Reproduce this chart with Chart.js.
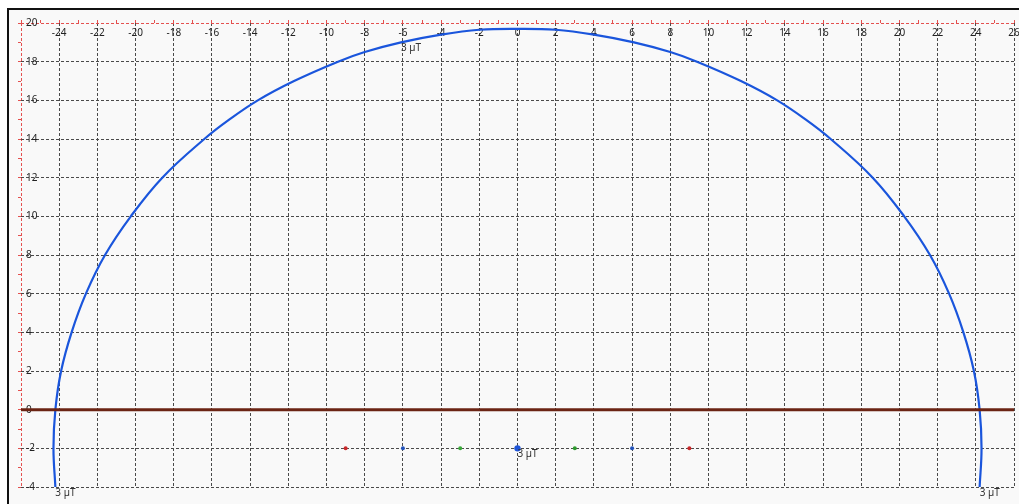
<!DOCTYPE html>
<html>
<head>
<meta charset="utf-8">
<script src="https://cdn.jsdelivr.net/npm/chart.js@4/dist/chart.umd.min.js"></script>
<style>
    html, body { margin: 0; padding: 0; background: #ffffff; }
    #wrap { position: relative; width: 1019px; height: 504px; overflow: hidden; }
    #frame {
        position: absolute; left: 7px; top: 8px; right: -4px; bottom: -4px;
        border-left: 2px solid #111; border-top: 2px solid #111;
        background: #f9f9f9;
    }
    #plot { position: absolute; left: 0; top: 0; }
</style>
</head>
<body>
<div id="wrap">
    <div id="frame"></div>
    <canvas id="plot" width="1019" height="504"></canvas>
</div>
<script>
// field line (semicircle-like contour)
const curveX = [-24.2, -24.3, -24.2, -23.9, -23.35, -22.6, -21.6, -20.25, -18.6, -16.4, -15.1, -13.6, -11.7, -9.4, -8.0, -6.1, -4.0, -2.0, 0,
                2.0, 4.0, 6.1, 8.0, 9.4, 11.7, 13.6, 15.1, 16.4, 18.6, 20.25, 21.6, 22.6, 23.35, 23.9, 24.2, 24.3, 24.2];
const curveY = [-4, -2, 0, 2, 4, 6, 8, 10, 12, 14, 15, 16, 17, 18, 18.5, 19, 19.4, 19.65, 19.7,
                19.65, 19.4, 19, 18.5, 18, 17, 16, 15, 14, 12, 10, 8, 6, 4, 2, 0, -2, -4];

// baseline
const baseX = [-26, 26];
const baseY = [0, 0];

// small sensor points on y = -2
const sensorX = [-9, -6, -3, 0, 3, 6, 9];
const sensorY = [-2, -2, -2, -2, -2, -2, -2];
const sensorColors = ['#c8282a', '#2050b8', '#3aa83a', '#1f55d8', '#2e9a2e', '#2050b8', '#c8282a'];
const sensorSizes = [2, 2, 2, 3.2, 2, 2, 2];

// value labels
const labelText = ['3 µT', '3 µT', '3 µT', '3 µT'];
const labelX = [-6.1, 0, -24.2, 24.2];
const labelY = [19, -2, -4, -4];

const xMin = -26, xMax = 26;
const yMin = -4, yMax = 20;

const toPoints = (xs, ys) => xs.map((x, i) => ({ x: x, y: ys[i] }));

const edgeRed = '#e4504f';
const gridDark = '#4a4a4a';

const labelPlugin = {
    id: 'valueLabels',
    afterDatasetsDraw(chart) {
        const ctx = chart.ctx;
        const xs = chart.scales.x;
        const ys = chart.scales.y;
        ctx.save();
        ctx.font = '10px "Noto Sans"';
        ctx.fillStyle = '#333';
        ctx.textAlign = 'left';
        ctx.textBaseline = 'top';
        labelText.forEach((t, i) => {
            ctx.fillText(t, xs.getPixelForValue(labelX[i]), ys.getPixelForValue(labelY[i]) + 1);
        });
        ctx.restore();
    }
};

const zeroSize = (scale) => {
    if (scale.isHorizontal()) scale.height = 0; else scale.width = 0;
    scale.paddingLeft = 0; scale.paddingRight = 0;
    scale.paddingTop = 0; scale.paddingBottom = 0;
};

var ctx = document.getElementById('plot').getContext('2d');
var myChart = new Chart(ctx, {
    type: 'scatter',
    data: {
        datasets: [{
            data: toPoints(baseX, baseY),
            showLine: true,
            borderColor: '#6b2414',
            borderWidth: 3,
            pointRadius: 0
        }, {
            data: toPoints(sensorX, sensorY),
            showLine: false,
            backgroundColor: sensorColors,
            borderColor: sensorColors,
            pointRadius: sensorSizes,
            borderWidth: 0
        }, {
            data: toPoints(curveX, curveY),
            showLine: true,
            borderColor: '#1a55dc',
            borderWidth: 2.2,
            tension: 0.4,
            pointRadius: 0
        }]
    },
    options: {
        responsive: false,
        animation: false,
        layout: { padding: { left: 21, top: 23, right: 5, bottom: 17 } },
        plugins: {
            legend: { display: false },
            tooltip: { enabled: false }
        },
        scales: {
            x: {
                type: 'linear',
                position: 'top',
                min: xMin,
                max: xMax,
                afterFit: zeroSize,
                border: { display: false, dash: [3, 2] },
                grid: {
                    color: (c) => {
                        const v = c.tick ? c.tick.value : 0;
                        if (v === xMin) return edgeRed;
                        return v % 2 === 0 ? gridDark : 'rgba(0,0,0,0)';
                    },
                    lineWidth: 1,
                    drawTicks: true,
                    tickLength: 3,
                    tickColor: edgeRed,
                    tickWidth: 1
                },
                ticks: {
                    stepSize: 1,
                    autoSkip: false,
                    mirror: true,
                    padding: 4,
                    maxRotation: 0,
                    color: '#222',
                    font: { family: 'Noto Sans', size: 10 },
                    callback: (v) => (v % 2 === 0 && v !== xMin) ? v : ''
                }
            },
            y: {
                type: 'linear',
                position: 'left',
                min: yMin,
                max: yMax,
                afterFit: zeroSize,
                border: { display: false, dash: [3, 2] },
                grid: {
                    color: (c) => {
                        const v = c.tick ? c.tick.value : 0;
                        if (v === yMax) return edgeRed;
                        return v % 2 === 0 ? gridDark : 'rgba(0,0,0,0)';
                    },
                    lineWidth: 1,
                    drawTicks: true,
                    tickLength: 3,
                    tickColor: edgeRed,
                    tickWidth: 1
                },
                ticks: {
                    stepSize: 1,
                    autoSkip: false,
                    mirror: true,
                    padding: 5,
                    color: '#222',
                    font: { family: 'Noto Sans', size: 10 },
                    callback: (v) => v % 2 === 0 ? v : ''
                }
            }
        }
    },
    plugins: [labelPlugin]
});
</script>
</body>
</html>
